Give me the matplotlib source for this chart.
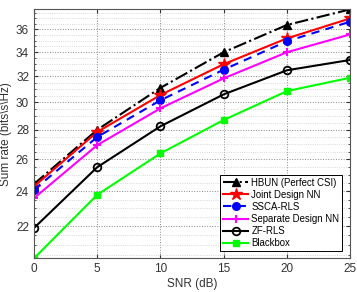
import matplotlib.pyplot as plt
from matplotlib.ticker import MultipleLocator, FixedLocator, FormatStrFormatter, NullFormatter

plt.rcParams['font.family'] = ['Liberation Sans', 'DejaVu Sans']

# SNR points (dB)
snr = [0, 5, 10, 15, 20, 25]

# sum rate per method
hbun = [24.45, 28.0, 31.1, 34.0, 36.4, 37.85]
joint_nn = [24.3, 27.85, 30.55, 33.0, 35.2, 37.0]
ssca_rls = [24.1, 27.5, 30.15, 32.55, 34.95, 36.7]
separate_nn = [23.6, 26.95, 29.55, 31.85, 34.0, 35.55]
zf_rls = [21.9, 25.5, 28.25, 30.6, 32.5, 33.35]
blackbox = [20.3, 23.8, 26.4, 28.7, 30.85, 31.9]

yticks = [22, 24, 26, 28, 30, 32, 34, 36]

fig = plt.figure(figsize=(3.57, 2.92), dpi=100)
ax = fig.add_axes([0.095, 0.115, 0.886, 0.853])

lw = 1.5
ax.plot(snr, hbun, 'k-.', marker='^', ms=6, lw=lw, label='HBUN (Perfect CSI)')
ax.plot(snr, joint_nn, color='red', ls='-', marker='*', ms=9, lw=lw, label='Joint Design NN')
ax.plot(snr, ssca_rls, color='blue', ls='--', marker='o', ms=5.5, lw=lw,
        dashes=(4, 3), label='SSCA-RLS')
ax.plot(snr, separate_nn, color='magenta', ls='-', marker='+', ms=6, mew=1.5, lw=lw,
        label='Separate Design NN')
ax.plot(snr, zf_rls, color='black', ls='-', marker='o', ms=5.5, mfc='none', mew=1.3, lw=lw,
        label='ZF-RLS')
ax.plot(snr, blackbox, color='#00ff00', ls='-', marker='s', ms=5, lw=lw, label='Blackbox')

ax.set_yscale('log')
ax.set_xlim(0, 25)
ax.set_ylim(20.3, 37.85)
ax.set_xticks([0, 5, 10, 15, 20, 25])
ax.yaxis.set_major_locator(FixedLocator(yticks))
ax.yaxis.set_major_formatter(FormatStrFormatter('%d'))
ax.yaxis.set_minor_locator(MultipleLocator(0.5))
ax.yaxis.set_minor_formatter(NullFormatter())

ax.grid(True, which='major', ls=':', color='#888888', lw=0.7)
ax.grid(True, which='minor', axis='y', ls=':', color='#cccccc', lw=0.6)
ax.tick_params(which='both', direction='in', top=True, right=True, labelsize=8.5,
               colors='#333333', labelcolor='#333333')
ax.tick_params(which='major', length=3)
ax.tick_params(which='minor', length=1.5)
for s in ax.spines.values():
    s.set_color('#555555')

ax.set_xlabel('SNR (dB)', fontsize=8.5, color='#333333', labelpad=2)
ax.set_ylabel(r'Sum rate (bits\s\Hz)', fontsize=8.5, color='#333333', labelpad=3)

leg = ax.legend(loc='lower right', bbox_to_anchor=(0.975, 0.03), fontsize=6.9,
                fancybox=False, edgecolor='black', framealpha=1, handlelength=2.6,
                borderpad=0.3, labelspacing=0.22, handletextpad=0.35, borderaxespad=0)
leg.get_frame().set_linewidth(0.7)

fig.savefig('out.png', dpi=100)
